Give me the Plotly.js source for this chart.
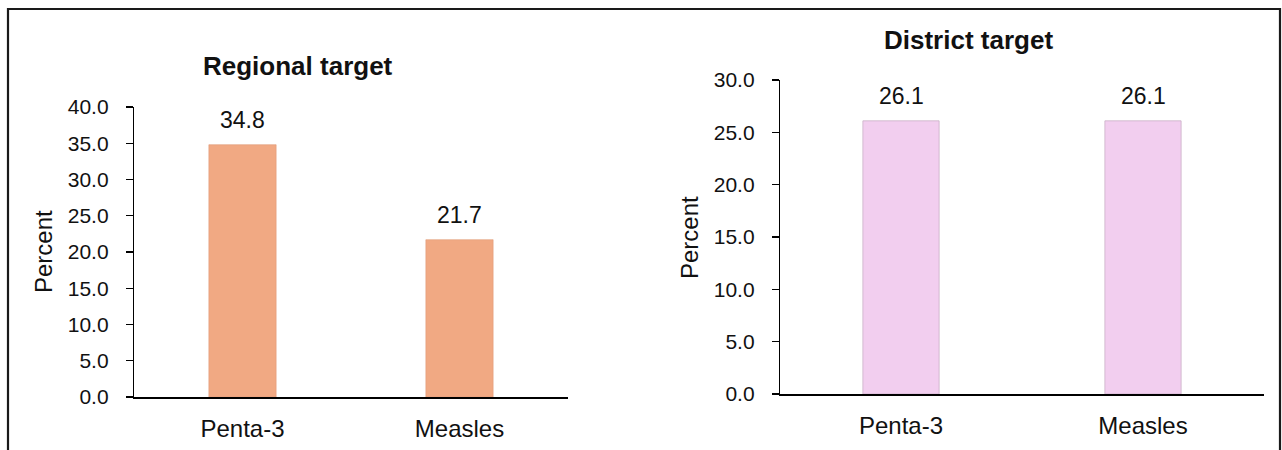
<!DOCTYPE html>
<html>
<head>
<meta charset="utf-8">
<script src="https://cdn.plot.ly/plotly-3.0.1.min.js"></script>
<style>
  html, body { margin: 0; padding: 0; background: #ffffff; }
  #chart { width: 1282px; height: 450px; }
</style>
</head>
<body>
<div id="chart"></div>
<script>
// Vaccination coverage against two target populations
const categories = ["Penta-3", "Measles"];
const regionalValues = [34.8, 21.7];
const districtValues = [26.1, 26.1];
const regionalTitle = "Regional target";
const districtTitle = "District target";
const yLabel = "Percent";

const W = 1282, H = 450;
const px = v => v / W;          // pixel x -> paper fraction
const py = v => 1 - v / H;      // pixel y -> paper fraction

const FONT = "'Liberation Sans', Arial, sans-serif";
const INK = "#111111";

const traces = [
  {
    type: "bar", x: categories, y: regionalValues, xaxis: "x", yaxis: "y",
    width: 0.31,
    marker: { color: "#F1A983", line: { color: "#E19C78", width: 0.6 } },
    hoverinfo: "x+y", showlegend: false
  },
  {
    type: "bar", x: categories, y: districtValues, xaxis: "x2", yaxis: "y2",
    width: 0.315,
    marker: { color: "#F2CEEF", line: { color: "#C9B0C7", width: 0.8 } },
    hoverinfo: "x+y", showlegend: false
  }
];

function valueLabels(xref, yref, vals) {
  return vals.map((v, i) => ({
    xref: xref, yref: yref, x: categories[i], y: v,
    text: v.toFixed(1), showarrow: false,
    yanchor: "bottom", yshift: 10,
    font: { family: FONT, size: 23, color: INK }
  }));
}

const tickFont = { family: FONT, size: 21, color: INK };
const catFont = { family: FONT, size: 24, color: INK };

const yCommon = {
  tickformat: ".1f", tickfont: tickFont,
  showgrid: false, zeroline: false,
  showline: true, linecolor: "#000000", linewidth: 1.2,
  ticks: "outside", ticklen: 7, tickcolor: "#000000", tickwidth: 1.2,
  ticklabelstandoff: 13, fixedrange: true
};
const xCommon = {
  tickfont: catFont, showgrid: false, zeroline: false,
  showline: true, linecolor: "#000000", linewidth: 1.6,
  ticks: "", ticklabelstandoff: 10, fixedrange: true
};

const layout = {
  width: W, height: H,
  margin: { l: 0, r: 0, t: 0, b: 0 },
  paper_bgcolor: "#ffffff", plot_bgcolor: "#ffffff",
  showlegend: false,
  xaxis:  Object.assign({}, xCommon, { domain: [px(134), px(568)], anchor: "y" }),
  yaxis:  Object.assign({}, yCommon, { domain: [py(397), py(107)], range: [0, 40], dtick: 5, anchor: "x" }),
  xaxis2: Object.assign({}, xCommon, { domain: [px(780), px(1264)], anchor: "y2" }),
  yaxis2: Object.assign({}, yCommon, { domain: [py(394), py(80)], range: [0, 30], dtick: 5, anchor: "x2" }),
  shapes: [
    // frame round the whole figure
    { type: "rect", xref: "paper", yref: "paper",
      x0: px(8), x1: px(1280), y0: -0.2, y1: py(9),
      line: { color: "#1a1a1a", width: 2.2 }, fillcolor: "rgba(0,0,0,0)" }
  ],
  annotations: [
    { xref: "paper", yref: "paper", x: px(298), y: py(66), text: "<b>" + regionalTitle + "</b>",
      showarrow: false, xanchor: "center", yanchor: "middle",
      font: { family: FONT, size: 26, color: INK } },
    { xref: "paper", yref: "paper", x: px(968), y: py(40), text: "<b>" + districtTitle + "</b>",
      showarrow: false, xanchor: "center", yanchor: "middle",
      font: { family: FONT, size: 26, color: INK } },
    { xref: "paper", yref: "paper", x: px(43), y: py(252), text: yLabel, textangle: -90,
      showarrow: false, xanchor: "center", yanchor: "middle",
      font: { family: FONT, size: 24, color: INK } },
    { xref: "paper", yref: "paper", x: px(690), y: py(238), text: yLabel, textangle: -90,
      showarrow: false, xanchor: "center", yanchor: "middle",
      font: { family: FONT, size: 24, color: INK } }
  ].concat(valueLabels("x", "y", regionalValues), valueLabels("x2", "y2", districtValues))
};

Plotly.newPlot("chart", traces, layout, { displayModeBar: false, staticPlot: true });
</script>
</body>
</html>
